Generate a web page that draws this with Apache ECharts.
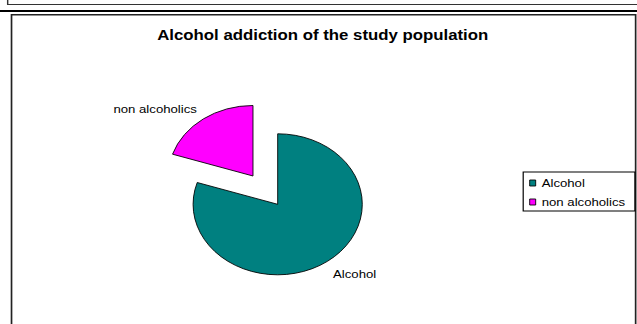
<!DOCTYPE html>
<html>
<head>
<meta charset="utf-8">
<script src="https://cdn.jsdelivr.net/npm/echarts@6/dist/echarts.min.js"></script>
<style>
  html, body { margin: 0; padding: 0; background: #fff; overflow: hidden; }
  #chart { position: absolute; left: 0; top: 0; width: 531px; height: 324px; transform: scaleX(1.2); transform-origin: 0 0; }
</style>
</head>
<body>
<div id="chart"></div>
<script>
// Data
var titleText = 'Alcohol addiction of the study population';
var categories = ['Alcohol', 'non alcoholics'];
var values = [80, 20];
var colors = ['#008080', '#FF00FF'];
var exploded = [false, true];

// label anchor positions (chart units, before horizontal stretch)
var labelPos = [
  { x: 277.5, y: 274.5 },
  { x: 94.5, y: 109 }
];

var FONT = '"Liberation Sans", Arial, sans-serif';
var chart = echarts.init(document.getElementById('chart'), null, { renderer: 'svg' });

var pieData = categories.map(function (name, i) {
  return {
    name: name,
    value: values[i],
    selected: exploded[i],
    itemStyle: { color: colors[i] },
    select: { itemStyle: { color: colors[i], borderColor: '#000', borderWidth: 0.8 } }
  };
});

var labelTexts = categories.map(function (name, i) {
  return {
    type: 'text',
    x: labelPos[i].x,
    y: labelPos[i].y,
    silent: true,
    style: { text: name, fill: '#000', font: '11px ' + FONT, textAlign: 'left', textVerticalAlign: 'middle' }
  };
});

var option = {
  animation: false,
  backgroundColor: '#fff',
  textStyle: { fontFamily: FONT },
  title: {
    text: titleText,
    left: 131,
    top: 28,
    padding: 0,
    textStyle: { fontSize: 14, fontWeight: 'bold', color: '#000', fontFamily: FONT }
  },
  legend: {
    orient: 'vertical',
    left: 436,
    top: 172,
    padding: [4, 8, 2, 5],
    itemGap: 5,
    itemWidth: 5,
    itemHeight: 6,
    icon: 'rect',
    borderColor: '#000',
    borderWidth: 1,
    itemStyle: { borderColor: '#000', borderWidth: 0.8 },
    textStyle: { fontSize: 11, color: '#000', lineHeight: 14, fontFamily: FONT },
    selectedMode: false,
    data: categories
  },
  graphic: [
    { type: 'rect', shape: { x: 6.4, y: -20, width: 620, height: 24.5 }, style: { fill: 'none', stroke: '#333', lineWidth: 1.2 }, silent: true },
    { type: 'rect', shape: { x: 0, y: 10, width: 531, height: 2 }, style: { fill: '#000' }, silent: true },
    { type: 'rect', shape: { x: 9.6, y: 14.8, width: 520.1, height: 400 }, style: { fill: 'none', stroke: '#222', lineWidth: 1.4 }, silent: true }
  ].concat(labelTexts),
  series: [{
    type: 'pie',
    center: [231.4, 204.3],
    radius: [0, 70.5],
    startAngle: 90,
    clockwise: true,
    selectedMode: 'multiple',
    selectedOffset: 35,
    emphasis: { disabled: true },
    itemStyle: { borderColor: '#000', borderWidth: 0.8 },
    label: { show: false },
    labelLine: { show: false },
    data: pieData
  }]
};

chart.setOption(option);
</script>
</body>
</html>
